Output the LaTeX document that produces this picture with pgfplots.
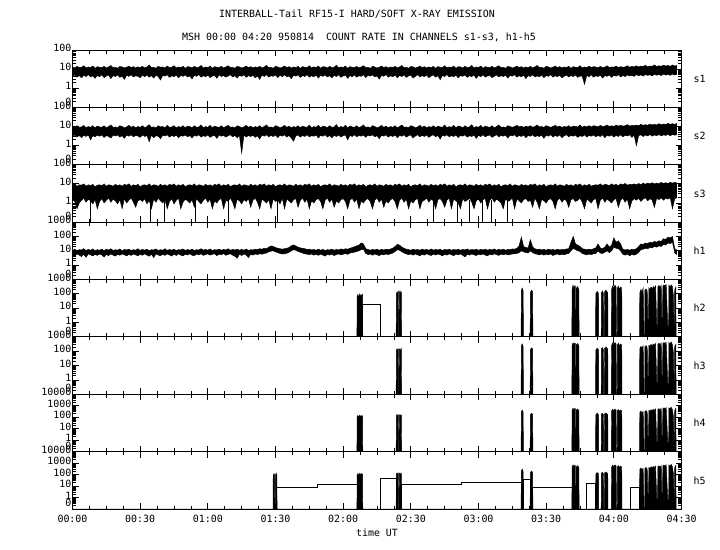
\documentclass[border=0pt]{standalone}
\usepackage{pgfplots}
\pgfplotsset{compat=1.18}
\usepackage{pgfplotstable}
\usepgfplotslibrary{fillbetween}
\usepackage{fontspec}
\setmainfont{DejaVu Sans Mono}

% ---------- noisy bands: one row per minute (00:00 = row 0), upper / lower envelope in counts ----------
\pgfplotstableread[row sep=\\]{
hi lo\\
13 4.2\\11.5 5.0\\14 3.8\\12 4.6\\12.5 3.5\\15 4.8\\11.5 4.1\\13 5.2\\12 3.9\\14.5 4.5\\
11 3.3\\13.5 4.7\\12.5 4.0\\12 5.1\\14 3.6\\11.5 4.4\\13 4.9\\15.5 3.2\\12 4.6\\12.5 4.1\\
11 5.0\\14 3.7\\13 4.3\\11.5 2.9\\12.5 4.8\\14.5 4.2\\12 5.1\\13.5 3.9\\11.5 4.5\\13 4.2\\
12 3.6\\14 4.9\\11.5 4.0\\13 5.0\\16.5 3.8\\12 4.6\\12.5 3.4\\11 4.8\\14 4.1\\12.5 2.7\\
13 4.7\\11.5 4.3\\14.5 5.1\\12 3.7\\12.5 4.5\\15 4.0\\11.5 4.9\\13 3.5\\12 4.6\\14 4.2\\
11 5.0\\13.5 3.9\\13 4.4\\11.5 3.1\\14 4.8\\12 4.2\\12.5 5.2\\15.5 3.8\\11.5 4.5\\13 4.0\\
12 4.9\\14.5 3.6\\11 4.3\\13.5 4.7\\12.5 3.3\\12 5.0\\14 4.1\\11.5 4.6\\13 3.8\\15 4.4\\
12 5.1\\12.5 3.9\\11 4.5\\14 3.4\\13 4.8\\11.5 4.2\\12.5 5.0\\14.5 3.7\\12 4.6\\13.5 4.0\\
11.5 4.8\\13 3.5\\12 4.4\\14 2.9\\11.5 4.9\\13 4.1\\15.5 5.2\\12 3.8\\12.5 4.5\\11 4.2\\
14 5.0\\13 3.6\\11.5 4.7\\12.5 4.0\\14.5 5.1\\12 3.9\\13.5 4.4\\11.5 3.2\\13 4.8\\12 4.3\\
14 5.0\\11 3.7\\13.5 4.6\\12.5 4.1\\12 5.2\\15 3.8\\11.5 4.5\\13 4.0\\12 4.9\\14.5 3.4\\
11 4.7\\13.5 4.2\\13 5.0\\11.5 3.9\\14 4.6\\12 3.5\\12.5 4.8\\16 4.1\\11.5 5.1\\13 3.7\\
12 4.4\\14.5 4.9\\11 3.3\\13.5 4.6\\12.5 4.0\\12 5.0\\14 3.8\\11.5 4.5\\13 4.2\\15 5.1\\
12 3.6\\12.5 4.7\\11 4.3\\14 5.0\\13 3.9\\11.5 4.4\\12.5 3.0\\14.5 4.8\\12 4.2\\13.5 5.2\\
11.5 3.8\\13 4.5\\12 4.0\\14 4.9\\11.5 3.5\\13 4.6\\15.5 4.1\\12 5.0\\12.5 3.7\\11 4.4\\
14 4.8\\13 3.4\\11.5 4.2\\12.5 5.1\\14.5 3.9\\12 4.6\\13.5 4.0\\11.5 4.9\\13 3.6\\12 4.3\\
14 5.0\\11 3.8\\13.5 4.5\\12.5 2.8\\12 4.7\\15 4.1\\11.5 5.2\\13 3.9\\12 4.4\\14.5 4.0\\
11 4.8\\13.5 3.5\\13 4.6\\11.5 4.2\\14 5.0\\12 3.7\\12.5 4.5\\15.5 4.1\\11.5 4.9\\13 3.3\\
12 4.6\\14.5 4.0\\11 5.1\\13.5 3.8\\12.5 4.4\\12 4.8\\14 3.6\\11.5 4.2\\13 5.0\\15 3.9\\
12 4.5\\12.5 4.1\\11 4.9\\14 3.4\\13 4.7\\11.5 4.3\\12.5 5.1\\14.5 3.8\\12 4.5\\13.5 4.0\\
11.5 4.8\\13 3.2\\12 4.6\\14 4.1\\11.5 5.0\\13 3.9\\15.5 4.4\\12 4.0\\12.5 4.9\\11 3.6\\
14 4.6\\13 4.2\\11.5 5.1\\12.5 3.8\\14.5 4.5\\12 4.0\\13.5 4.8\\11.5 3.5\\13 4.3\\12 4.9\\
14 3.9\\11 4.6\\13.5 4.1\\12.5 5.0\\12 3.7\\15 4.4\\11.5 4.2\\13 1.6\\12 4.7\\14.5 4.0\\
12 5.1\\13.5 3.8\\13 4.5\\11.5 4.1\\14 4.9\\12 3.4\\12.5 4.6\\15 4.2\\12 5.0\\13 3.7\\
12.5 4.8\\14.5 4.3\\12 5.1\\13.5 3.9\\12.5 4.6\\13 4.1\\15 5.0\\12.5 4.4\\14 4.8\\13 4.2\\
15 5.2\\13 4.5\\14.5 5.0\\13.5 4.3\\16 5.3\\13 4.7\\14.5 5.1\\14 4.4\\16.5 5.4\\13.5 4.8\\
15 5.2\\14 4.6\\16 5.5\\14.5 4.9\\15.5 5.3\\14 4.7\\16.5 5.6\\14.5 5.0\\15.5 5.3\\
}\tsone

\pgfplotstableread[row sep=\\]{
hi lo\\
10 3.2\\8.5 3.6\\11 2.8\\9 3.4\\9.5 2.6\\11.5 3.5\\8.5 3.0\\10 3.7\\9 2.0\\11 3.3\\
8.5 2.9\\10.5 3.5\\9.5 3.1\\9 3.6\\11 2.7\\8.5 3.4\\10 3.0\\12 2.5\\9 3.5\\9.5 3.2\\
8.5 3.6\\11 2.8\\10 3.3\\8.5 2.4\\9.5 3.5\\11.5 3.1\\9 3.7\\10.5 2.9\\8.5 3.4\\10 3.2\\
9 2.7\\11 3.6\\8.5 3.0\\10 3.4\\12.5 1.6\\9 3.5\\9.5 2.6\\8.5 3.3\\11 3.1\\9.5 2.3\\
10 3.5\\8.5 3.2\\11.5 3.7\\9 2.8\\9.5 3.4\\11 3.0\\8.5 3.6\\10 2.6\\9 3.3\\11 3.1\\
8.5 3.6\\10.5 2.9\\10 3.4\\8.5 2.5\\11 3.5\\9 3.1\\9.5 3.7\\12 2.8\\8.5 3.3\\10 3.0\\
9 3.6\\11.5 2.7\\8.5 3.2\\10.5 3.5\\9.5 2.4\\9 3.6\\11 3.1\\8.5 3.4\\10 2.8\\11.5 3.3\\
9 3.7\\9.5 2.9\\8.5 3.4\\11 2.6\\10 3.5\\8.5 0.4\\9.5 3.6\\11.5 2.8\\9 3.4\\10.5 3.0\\
8.5 3.5\\10 2.7\\9 3.3\\11 2.2\\8.5 3.6\\10 3.1\\12 3.7\\9 2.9\\9.5 3.4\\8.5 3.0\\
11 3.6\\10 2.6\\8.5 3.5\\9.5 3.1\\11.5 3.7\\9 2.8\\10.5 3.4\\8.5 2.5\\10 1.7\\9 3.2\\
11 3.6\\8.5 2.8\\10.5 3.4\\9.5 3.0\\9 3.7\\12 2.9\\8.5 3.3\\10 3.1\\9 3.6\\11.5 2.5\\
8.5 3.4\\10.5 3.1\\10 3.7\\8.5 2.8\\11 3.4\\9 2.6\\9.5 3.5\\12.5 3.0\\8.5 3.6\\10 2.8\\
9 3.3\\11.5 3.6\\8.5 2.0\\10.5 3.4\\9.5 3.0\\9 3.7\\11 2.9\\8.5 3.4\\10 3.1\\12 3.6\\
9 2.7\\9.5 3.5\\8.5 3.2\\11 3.7\\10 2.9\\8.5 3.3\\9.5 2.3\\11.5 3.5\\9 3.1\\10.5 3.7\\
8.5 2.8\\10 3.4\\9 3.0\\11 3.6\\8.5 2.6\\10 3.4\\12 3.1\\9 3.7\\9.5 2.8\\8.5 3.3\\
11 3.6\\10 2.5\\8.5 3.2\\9.5 3.7\\11.5 2.9\\9 3.4\\10.5 3.0\\8.5 3.6\\10 2.7\\9 3.3\\
11 3.7\\8.5 2.9\\10.5 3.4\\9.5 2.2\\9 3.5\\12 3.1\\8.5 3.7\\10 2.9\\9 3.4\\11.5 3.0\\
8.5 3.6\\10.5 2.6\\10 3.4\\8.5 3.1\\11 3.7\\9 2.8\\9.5 3.3\\12.5 3.0\\8.5 3.6\\10 2.4\\
9 3.4\\11.5 3.0\\8.5 3.7\\10.5 2.9\\9.5 3.3\\9 3.6\\11 2.7\\8.5 3.2\\10 3.7\\12 2.9\\
9 3.4\\9.5 3.1\\8.5 3.6\\11 2.5\\10 3.5\\9 3.2\\10 3.7\\11.5 2.8\\9.5 3.4\\10.5 3.0\\
9 3.6\\10.5 2.6\\9.5 3.4\\11 3.1\\9 3.7\\10 2.9\\12 3.3\\9.5 3.0\\10 3.6\\9 2.4\\
11 3.5\\10 3.1\\9 3.7\\10 2.8\\11.5 3.4\\9.5 3.0\\10.5 3.6\\9 2.6\\10 3.3\\9.5 3.7\\
11 2.9\\9 3.4\\10.5 3.1\\10 3.6\\9.5 2.7\\12 3.3\\9 3.0\\10.5 3.7\\9.5 2.8\\11 3.4\\
9.5 3.1\\11 3.6\\10.5 2.9\\9.5 3.4\\11.5 3.0\\10 3.7\\10.5 2.6\\12 3.5\\10 3.1\\11 3.6\\
10 2.8\\12 3.4\\10.5 3.0\\11.5 3.7\\10.5 2.9\\11 3.5\\12.5 3.2\\10.5 3.7\\11.5 2.7\\11 3.5\\
12 1.0\\11 3.3\\13 3.7\\11.5 3.0\\12.5 3.6\\11.5 3.2\\13.5 3.8\\12 3.1\\13 3.6\\12 3.3\\
14 3.8\\12.5 3.2\\13.5 3.7\\12.5 3.4\\14.5 3.9\\13 3.3\\14 3.8\\13 3.5\\14.5 3.9\\
}\tstwo

\pgfplotstableread[row sep=\\]{
hi lo\\
8 1.5\\9.5 1.2\\7.5 0.5\\9 1.0\\8.5 1.4\\10 1.8\\7.5 1.1\\9 1.6\\8 1.3\\9.5 0.9\\
7 1.5\\8.5 0.5\\9 1.2\\8 1.7\\10 1.0\\7.5 1.4\\9 1.8\\8.5 1.1\\7.5 1.6\\9.5 1.3\\
8 0.9\\9 1.5\\7.5 0.5\\9.5 1.7\\8.5 1.0\\10 1.4\\7.5 1.8\\9 1.1\\8 0.6\\9.5 1.3\\
7 1.5\\8.5 1.2\\9 1.7\\8 0.9\\10 1.4\\7.5 0.5\\9 1.6\\8.5 1.1\\7.5 1.8\\9.5 1.3\\
8 1.0\\9 1.5\\7.5 0.5\\9.5 1.2\\8.5 1.7\\10 0.9\\7.5 1.4\\9 1.8\\8 0.5\\9.5 1.1\\
7 1.6\\8.5 1.3\\9 1.0\\8 1.5\\10 0.6\\7.5 1.7\\9 1.2\\8.5 0.9\\7.5 1.4\\9.5 1.8\\
8 1.1\\9 1.6\\7.5 0.5\\9.5 1.3\\8.5 1.0\\10 1.5\\7.5 1.7\\9 0.5\\8 1.4\\9.5 1.2\\
7 1.8\\8.5 1.1\\9 0.5\\8 1.6\\10 1.3\\7.5 0.9\\9 1.5\\8.5 1.2\\7.5 1.7\\9.5 0.6\\
8 1.4\\9 1.8\\7.5 1.1\\9.5 0.5\\8.5 1.6\\10 1.3\\7.5 1.0\\9 1.5\\8 0.5\\9.5 1.7\\
7 1.2\\8.5 1.4\\9 0.9\\8 1.8\\10 0.5\\7.5 1.6\\9 1.3\\8.5 1.0\\7.5 1.5\\9.5 1.7\\
8 0.6\\9 1.4\\7.5 1.8\\9.5 1.1\\8.5 1.6\\10 0.5\\7.5 1.3\\9 1.0\\8 1.5\\9.5 1.7\\
7 1.2\\8.5 0.5\\9 1.4\\8 1.8\\10 1.1\\7.5 1.6\\9 0.6\\8.5 1.3\\7.5 1.0\\9.5 1.5\\
8 1.7\\9 1.2\\7.5 0.5\\9.5 1.4\\8.5 1.8\\10 1.1\\7.5 1.6\\9 0.5\\8 1.3\\9.5 1.0\\
7 1.5\\8.5 1.7\\9 1.2\\8 0.5\\10 1.4\\7.5 1.8\\9 1.1\\8.5 1.6\\7.5 0.6\\9.5 1.3\\
8 1.0\\9 1.5\\7.5 1.7\\9.5 1.2\\8.5 0.5\\10 1.4\\7.5 1.8\\9 1.1\\8 1.6\\9.5 0.5\\
7 1.3\\8.5 1.0\\9 1.5\\8 1.7\\10 0.5\\7.5 1.2\\9 1.4\\8.5 1.8\\7.5 1.1\\9.5 1.6\\
8 1.3\\9 0.5\\7.5 1.5\\9.5 1.7\\8.5 1.2\\10 0.6\\7.5 1.4\\9 1.8\\8 0.5\\9.5 1.6\\
7 1.3\\8.5 1.0\\9 0.5\\8 1.7\\10 1.2\\7.5 1.4\\9 1.8\\8.5 1.1\\7.5 0.5\\9.5 1.3\\
8 1.6\\9 1.0\\7.5 1.5\\9.5 1.7\\8.5 0.5\\10 1.4\\7.5 1.8\\9 1.1\\8 1.6\\9.5 1.3\\
7 1.0\\8.5 0.5\\9 1.7\\8 1.2\\10 1.4\\7.5 1.8\\9 0.5\\8.5 1.6\\7.5 1.3\\9.5 1.0\\
8 1.5\\9 1.7\\7.5 1.2\\9.5 1.4\\8.5 0.6\\10 1.8\\7.5 1.1\\9 0.5\\8 1.6\\9.5 1.3\\
7 1.0\\8.5 1.5\\9 1.7\\8 1.2\\10 0.5\\7.5 1.4\\9 1.8\\8.5 1.1\\7.5 1.6\\9.5 1.3\\
8 0.6\\9 1.5\\7.5 1.7\\9.5 1.2\\8.5 1.4\\10 1.8\\7.5 1.1\\9 0.5\\8 1.6\\9.5 1.3\\
7.5 1.0\\8.5 1.5\\9 1.7\\8.5 0.5\\10 1.4\\8 1.8\\9.5 1.1\\9 1.6\\8 1.3\\10 1.0\\
8.5 1.5\\9.5 1.7\\8 0.6\\10 1.4\\9 1.8\\10.5 1.1\\8.5 1.6\\9.5 0.5\\9 1.3\\10 1.7\\
9 1.4\\10.5 1.8\\9 1.2\\11 1.6\\9.5 1.9\\11 1.3\\10 1.7\\11.5 1.4\\10 0.6\\11 1.8\\
10 1.5\\12 1.9\\10.5 1.4\\11.5 1.8\\10.5 1.6\\12 1.9\\11 0.5\\12 1.7\\11 1.9\\
}\tsthree

% s3 drop-outs to zero (drawn from the bottom up to the band)
\pgfplotstableread{
t v
8 1.4
34.5 1.4
40.7 1.4
54.4 1.4
69 1.4
91 1.4
160 1.4
170.6 1.4
176 1.4
181.6 1.4
185.6 1.4
192.7 1.4
}\zsthree

\pgfplotstableread[row sep=\\]{
hi lo\\
11 5.5\\13 4.5\\10 6.0\\12 5.0\\11.5 4.0\\14 5.8\\10.5 3.5\\12.5 6.2\\11 5.2\\13.5 4.4\\
10 5.6\\12 4.8\\11 6.0\\13 5.1\\10.5 3.7\\12.5 5.7\\11.5 4.6\\14 6.1\\10.5 5.0\\12 4.3\\
11 5.8\\13.5 4.9\\10 6.1\\12.5 5.3\\11.5 4.4\\13 5.7\\10.5 4.8\\12 6.0\\11 5.2\\14 4.5\\
10.5 5.6\\12.5 4.9\\11 6.2\\13 5.0\\10 4.2\\12 5.8\\11.5 3.4\\13.5 6.0\\10.5 5.1\\12 4.6\\
11 5.7\\14 4.8\\10.5 6.1\\12.5 5.2\\11 4.3\\13 5.9\\10.5 4.7\\12 6.2\\11.5 5.0\\13.5 4.4\\
10.5 5.8\\12.5 5.1\\11 6.3\\13 4.9\\10.5 4.5\\12 6.0\\11.5 5.2\\14 6.2\\11 4.8\\12.5 5.5\\
11 6.1\\13.5 5.0\\10.5 5.7\\12 6.3\\11.5 4.6\\13 5.9\\11 5.3\\12.5 6.4\\11.5 4.9\\14 5.6\\
11 6.2\\12.5 5.0\\11.5 4.2\\13 3.0\\11 5.8\\12.5 4.7\\11 6.0\\13.5 5.2\\10.5 3.4\\12 5.7\\
11.5 5.0\\13 6.1\\12 5.4\\14 6.3\\13 5.8\\15 6.5\\14 7.0\\18 8.5\\22 9.5\\20 10\\
17 8.5\\15 7.5\\14 6.5\\13 6.0\\14 6.2\\15 6.8\\17 8.0\\22 10\\26 12\\22 11\\
18 9.0\\16 8.0\\15 7.0\\14 6.2\\12.5 5.8\\13 5.4\\11.5 6.0\\12.5 5.0\\11 5.7\\13 4.8\\
11 5.9\\12.5 5.1\\10.5 4.3\\12 5.8\\11.5 5.0\\13 6.0\\11 4.6\\12.5 5.5\\11.5 6.1\\13.5 5.2\\
12 5.8\\14 6.3\\13 5.7\\15 7.0\\17 7.5\\19 8.0\\22 9.0\\25 10\\35 12\\30 13\\
14 6.5\\12.5 5.5\\11 5.9\\12.5 5.0\\11.5 6.0\\13 5.3\\11 4.6\\12.5 5.8\\11.5 5.2\\13 6.0\\
12 5.5\\13.5 6.2\\15 7.0\\20 9.0\\28 12\\25 11\\18 8.5\\15 7.0\\13 6.0\\12 5.5\\
11 5.9\\13 5.0\\11.5 6.1\\12.5 5.2\\11 4.5\\13 5.8\\11.5 5.0\\12.5 6.2\\11 5.3\\13.5 4.7\\
11 5.9\\12.5 5.1\\11.5 6.0\\13 5.4\\10.5 4.4\\12.5 5.8\\11.5 5.0\\13 6.2\\11 5.3\\12.5 4.6\\
11.5 5.9\\13 5.2\\11 6.1\\12.5 4.9\\11.5 3.8\\13.5 5.7\\11 5.0\\12.5 6.0\\11.5 5.3\\13 4.7\\
11 5.9\\12.5 5.2\\11.5 6.1\\13 5.0\\11 4.5\\12.5 5.8\\11.5 5.1\\13.5 6.2\\11 5.4\\12.5 4.8\\
11.5 5.9\\13 5.3\\11 6.0\\12.5 5.1\\12 5.6\\13.5 6.0\\13 6.2\\15 6.5\\22 7.5\\90 10\\
20 8.5\\17 7.5\\16 7.0\\60 10\\18 7.5\\14 6.2\\12.5 5.8\\13 5.2\\11.5 6.0\\12.5 5.0\\
11 5.8\\13 5.2\\11.5 6.1\\12.5 4.7\\11 5.5\\13 6.0\\11.5 5.1\\12.5 5.8\\12 5.3\\13.5 6.1\\
14 6.5\\40 10\\100 15\\30 12\\25 10\\20 9.0\\14 6.5\\13 5.8\\12 5.2\\13 6.0\\
12 5.4\\14 6.2\\16 6.5\\30 10\\16 7.0\\14 6.5\\18 8.0\\30 10\\18 7.5\\25 10\\
80 18\\40 15\\50 14\\30 10\\13 5.8\\11.5 5.0\\12.5 6.0\\11 4.5\\13 5.7\\12 5.0\\
14 5.8\\20 8.0\\30 12\\28 13\\35 15\\32 14\\40 17\\36 16\\45 20\\40 18\\
50 22\\45 20\\70 28\\60 25\\90 35\\80 32\\100 40\\14 7.0\\11 5.5\\
}\thone

% ---------- burst tables (counts; 0 between bursts) ----------
\pgfplotstableread{
t v
0 0
126.1 0
126.2 60
126.5 90
126.8 55
127.1 80
127.4 100
127.7 60
128 85
128.3 70
128.6 90
128.7 0
143.5 0
143.6 100
143.9 140
144.2 110
144.5 150
144.6 0
144.8 0
144.9 120
145.2 160
145.5 110
145.8 130
145.9 0
198.9 0
199 180
199.4 250
199.8 150
199.9 0
202.9 0
203 120
203.5 180
204 140
204.1 0
221.4 0
221.5 200
221.9 400
222.3 250
222.7 350
222.9 0
223.1 0
223.2 300
223.6 200
224 320
224.5 180
224.6 0
231.9 0
232 100
232.6 150
233.2 110
233.3 0
234.4 0
234.5 120
235 160
235.4 100
235.5 0
235.8 0
235.9 140
236.5 180
237.3 120
237.4 0
238.9 0
239 200
239.5 350
240 250
240.5 400
241 300
241.2 0
241.5 0
241.6 250
242 350
242.5 200
243 300
243.5 250
243.6 0
251.4 0
251.5 120
252 200
252.5 130
253 250
253.4 0
253.7 0
253.8 180
254.3 220
254.8 160
255.2 0
255.4 0
255.5 260
256 200
256.5 300
257 220
257.5 320
258 250
258.5 350
259.2 0
259.4 0
259.5 300
260 380
260.5 280
261 400
261.4 0
261.6 0
261.7 320
262.2 420
262.7 350
263.2 450
264.1 0
264.3 0
264.4 400
264.9 300
265.4 420
265.9 350
266.4 80
266.8 0
267 200
267.5 300
267.6 0
270 0
}\bhtwo

\pgfplotstableread{
t v
0 0
143.5 0
143.6 110
143.9 150
144.2 120
144.5 140
144.6 0
144.8 0
144.9 130
145.2 150
145.5 100
145.8 140
145.9 0
198.9 0
199 250
199.4 320
199.8 200
199.9 0
202.9 0
203 130
203.5 170
204 150
204.1 0
221.4 0
221.5 250
221.9 380
222.3 300
222.7 360
222.9 0
223.1 0
223.2 320
223.6 250
224 350
224.5 220
224.6 0
231.9 0
232 120
232.6 160
233.2 130
233.3 0
234.4 0
234.5 150
235 180
235.4 120
235.5 0
235.8 0
235.9 160
236.5 200
237.3 140
237.4 0
238.9 0
239 250
239.5 380
240 300
240.5 400
241 320
241.2 0
241.5 0
241.6 280
242 360
242.5 240
243 320
243.5 260
243.6 0
251.4 0
251.5 150
252 220
252.5 160
253 240
253.4 0
253.7 0
253.8 200
254.3 250
254.8 180
255.2 0
255.4 0
255.5 260
256 220
256.5 300
257 230
257.5 320
258 260
258.5 340
259.2 0
259.4 0
259.5 300
260 360
260.5 280
261 380
261.4 0
261.6 0
261.7 330
262.2 400
262.7 350
263.2 420
264.1 0
264.3 0
264.4 400
264.9 320
265.4 450
265.9 300
266.4 80
266.8 0
267 220
267.5 300
267.6 0
270 0
}\bhthree

\pgfplotstableread{
t v
0 0
126.1 0
126.2 100
126.5 140
126.8 90
127.1 130
127.4 150
127.7 100
128 140
128.3 110
128.6 130
128.7 0
143.5 0
143.6 130
143.9 170
144.2 120
144.5 160
144.6 0
144.8 0
144.9 140
145.2 170
145.5 120
145.8 150
145.9 0
198.9 0
199 300
199.4 420
199.8 250
199.9 0
202.9 0
203 160
203.5 220
204 180
204.1 0
221.4 0
221.5 400
221.9 600
222.3 450
222.7 580
222.9 0
223.1 0
223.2 500
223.6 380
224 520
224.5 350
224.6 0
231.9 0
232 160
232.6 220
233.2 170
233.3 0
234.4 0
234.5 180
235 220
235.4 150
235.5 0
235.8 0
235.9 200
236.5 230
237.3 170
237.4 0
238.9 0
239 350
239.5 480
240 380
240.5 500
241 420
241.2 0
241.5 0
241.6 380
242 460
242.5 330
243 420
243.5 350
243.6 0
251.4 0
251.5 250
252 350
252.5 220
253 320
253.4 0
253.7 0
253.8 300
254.3 380
254.8 280
255.2 0
255.4 0
255.5 400
256 330
256.5 450
257 360
257.5 480
258 400
258.5 520
259.2 0
259.4 0
259.5 480
260 560
260.5 420
261 600
261.4 0
261.6 0
261.7 550
262.2 650
262.7 520
263.2 700
264.1 0
264.3 0
264.4 650
264.9 520
265.4 750
265.9 500
266.4 120
266.8 0
267 400
267.5 600
267.6 0
270 0
}\bhfour

\pgfplotstableread{
t v
0 0
88.9 0
89 80
89.3 120
89.6 90
89.7 0
89.9 0
90 100
90.3 130
90.6 90
90.7 0
126.1 0
126.2 90
126.5 120
126.8 80
127.1 110
127.4 130
127.7 90
128 120
128.3 100
128.6 110
128.7 0
143.5 0
143.6 110
143.9 140
144.2 100
144.5 130
144.6 0
144.8 0
144.9 120
145.2 140
145.5 100
145.8 120
145.9 0
198.9 0
199 220
199.4 300
199.8 180
199.9 0
202.9 0
203 150
203.5 200
204 160
204.1 0
221.4 0
221.5 450
221.9 700
222.3 500
222.7 650
222.9 0
223.1 0
223.2 550
223.6 420
224 600
224.5 400
224.6 0
231.9 0
232 110
232.6 150
233.2 120
233.3 0
234.4 0
234.5 130
235 160
235.4 110
235.5 0
235.8 0
235.9 140
236.5 170
237.3 120
237.4 0
238.9 0
239 450
239.5 650
240 500
240.5 700
241 550
241.2 0
241.5 0
241.6 480
242 600
242.5 420
243 560
243.5 450
243.6 0
251.4 0
251.5 280
252 380
252.5 250
253 350
253.4 0
253.7 0
253.8 330
254.3 420
254.8 300
255.2 0
255.4 0
255.5 420
256 350
256.5 480
257 380
257.5 500
258 420
258.5 550
259.2 0
259.4 0
259.5 500
260 580
260.5 440
261 620
261.4 0
261.6 0
261.7 560
262.2 680
262.7 540
263.2 720
264.1 0
264.3 0
264.4 680
264.9 540
265.4 780
265.9 520
266.4 130
266.8 0
267 420
267.5 620
267.6 0
270 0
}\bhfive

% ---------- step (plateau) lines ----------
\pgfplotstableread{
t v
128.6 0
128.6 17
136.5 17
136.5 0
}\sthtwo

\pgfplotstableread{
t v
90.6 0
90.6 7
108.7 7
108.7 14
126.2 14
126.2 0
136.5 0
136.5 47
143.6 47
143.6 0
145.8 0
145.8 14
172.2 14
172.2 21
199 21
199 0
199.8 0
199.8 39
203 39
203 0
204 0
204 7.8
221.5 7.8
221.5 0
227.9 0
227.9 17
232 17
232 0
247.3 0
247.3 7.8
251.5 7.8
251.5 0
}\sthfive

\pgfplotsset{
  panel/.style={
    width=609bp, height=57.375bp, scale only axis,
    anchor=north west,
    xmin=0, xmax=270,
    xtick={0,30,...,270},
    minor x tick num=3,
    xticklabels={},
    tick align=inside,
    tick pos=both,
    major tick length=6bp,
    minor tick length=3.5bp,
    tick style={black, line width=0.8bp},
    axis line style={line width=1bp},
    ymin=0,
    tick label style={font=\fontsize{10}{10}\selectfont},
    yticklabel style={inner sep=1bp, yshift=2bp},
    xticklabel style={yshift=-3bp},
    extra y ticks={0}, extra y tick labels={0},
    extra y tick style={yticklabel style={yshift=4bp}},
  },
  dec3/.style={ymax=3, ytick={1,2,3}, yticklabels={1,10,100},
    minor ytick={0.301,0.477,0.602,0.699,0.778,0.845,0.903,0.954,
      1.301,1.477,1.602,1.699,1.778,1.845,1.903,1.954,
      2.301,2.477,2.602,2.699,2.778,2.845,2.903,2.954}},
  dec4/.style={ymax=4, ytick={1,2,3,4}, yticklabels={1,10,100,1000},
    minor ytick={0.301,0.477,0.602,0.699,0.778,0.845,0.903,0.954,
      1.301,1.477,1.602,1.699,1.778,1.845,1.903,1.954,
      2.301,2.477,2.602,2.699,2.778,2.845,2.903,2.954,
      3.301,3.477,3.602,3.699,3.778,3.845,3.903,3.954}},
  dec5/.style={ymax=5, ytick={1,2,3,4,5}, yticklabels={1,10,100,1000,10000},
    minor ytick={0.301,0.477,0.602,0.699,0.778,0.845,0.903,0.954,
      1.301,1.477,1.602,1.699,1.778,1.845,1.903,1.954,
      2.301,2.477,2.602,2.699,2.778,2.845,2.903,2.954,
      3.301,3.477,3.602,3.699,3.778,3.845,3.903,3.954,
      4.301,4.477,4.602,4.699,4.778,4.845,4.903,4.954}},
  edge/.style={draw=black, line width=0.45bp},
  burst/.style={draw=black, fill=black, line width=0.45bp},
  step/.style={draw=black, line width=0.8bp},
}

\newcommand{\hiexpr}{log10(max(\thisrow{hi},0.1))+1}
\newcommand{\loexpr}{log10(max(\thisrow{lo},0.1))+1}
\newcommand{\vexpr}{log10(max(\thisrow{v},0.1))+1}

\begin{document}
\begin{tikzpicture}[font=\fontsize{10}{12}\selectfont]

\node at (357bp,-14bp) {INTERBALL-Tail RF15-I HARD/SOFT X-RAY EMISSION};
\node at (359bp,-37bp) {MSH 00:00 04:20 950814\ \ COUNT RATE IN CHANNELS s1-s3, h1-h5};

% s1
\begin{axis}[panel, dec3, name=ps1, at={(72.5bp,-50bp)}]
\addplot[edge, name path=a1] table[x expr=\coordindex, y expr={\hiexpr}] {\tsone};
\addplot[edge, name path=b1] table[x expr=\coordindex, y expr={\loexpr}] {\tsone};
\addplot[black] fill between[of=a1 and b1];
\end{axis}
% s2
\begin{axis}[panel, dec3, name=ps2, at={(72.5bp,-107.375bp)}]
\addplot[edge, name path=a2] table[x expr=\coordindex, y expr={\hiexpr}] {\tstwo};
\addplot[edge, name path=b2] table[x expr=\coordindex, y expr={\loexpr}] {\tstwo};
\addplot[black] fill between[of=a2 and b2];
\end{axis}
% s3
\begin{axis}[panel, dec3, name=ps3, at={(72.5bp,-164.75bp)}]
\addplot[edge, name path=a3] table[x expr=\coordindex, y expr={\hiexpr}] {\tsthree};
\addplot[edge, name path=b3] table[x expr=\coordindex, y expr={\loexpr}] {\tsthree};
\addplot[black] fill between[of=a3 and b3];
\addplot[black, line width=0.8bp, ycomb] table[x=t, y expr={\vexpr}] {\zsthree};
\end{axis}
% h1
\begin{axis}[panel, dec4, name=ph1, at={(72.5bp,-222.125bp)}]
\addplot[edge, name path=a4] table[x expr=\coordindex, y expr={\hiexpr}] {\thone};
\addplot[edge, name path=b4] table[x expr=\coordindex, y expr={\loexpr}] {\thone};
\addplot[black] fill between[of=a4 and b4];
\end{axis}
% h2
\begin{axis}[panel, dec4, name=ph2, at={(72.5bp,-279.5bp)}]
\addplot[burst] table[x=t, y expr={\vexpr}] {\bhtwo} \closedcycle;
\addplot[step] table[x=t, y expr={\vexpr}] {\sthtwo};
\end{axis}
% h3
\begin{axis}[panel, dec4, name=ph3, at={(72.5bp,-336.875bp)}]
\addplot[burst] table[x=t, y expr={\vexpr}] {\bhthree} \closedcycle;
\end{axis}
% h4
\begin{axis}[panel, dec5, name=ph4, at={(72.5bp,-394.25bp)}]
\addplot[burst] table[x=t, y expr={\vexpr}] {\bhfour} \closedcycle;
\end{axis}
% h5
\begin{axis}[panel, dec5, name=ph5, at={(72.5bp,-451.625bp)},
  xticklabels={00:00,00:30,01:00,01:30,02:00,02:30,03:00,03:30,04:00,04:30},
  xlabel={time UT}, xlabel style={inner sep=0pt, yshift=-2bp}]
\addplot[burst] table[x=t, y expr={\vexpr}] {\bhfive} \closedcycle;
\addplot[step] table[x=t, y expr={\vexpr}] {\sthfive};
\end{axis}

\foreach \n/\l in {ps1/s1,ps2/s2,ps3/s3,ph1/h1,ph2/h2,ph3/h3,ph4/h4,ph5/h5}{
  \node[anchor=west, inner sep=0pt] at ([xshift=12bp]\n.east) {\l};
}

\pgfresetboundingbox
\path[use as bounding box] (0,0) rectangle (720bp,-550bp);
\end{tikzpicture}
\end{document}
